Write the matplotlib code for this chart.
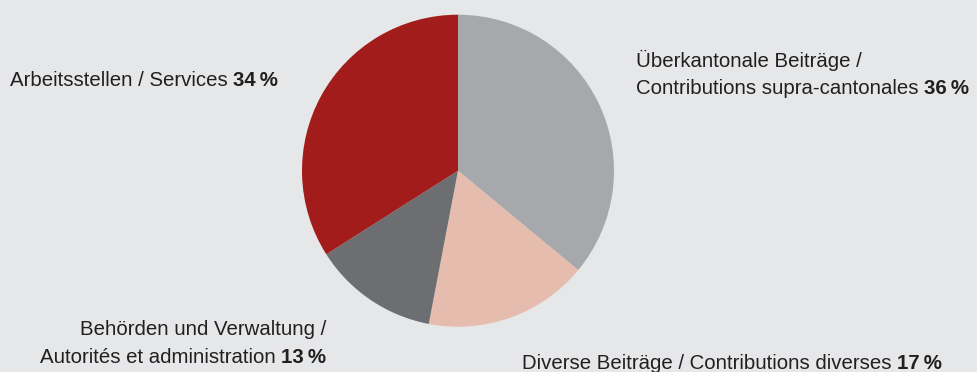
import matplotlib
matplotlib.use("Agg")
import matplotlib.pyplot as plt

labels = ["Überkantonale Beiträge /\nContributions supra-cantonales",
          "Diverse Beiträge / Contributions diverses",
          "Behörden und Verwaltung /\nAutorités et administration",
          "Arbeitsstellen / Services"]
values = [36, 17, 13, 34]
colors = ["#a7a8ab", "#e5bcad", "#6d6e71", "#a21c1b"]

W, H = 977, 372
BG = "#e6e7e8"
FONT = "Liberation Sans"
FS = 14.7
TXT = "#231f20"

fig = plt.figure(figsize=(W / 100, H / 100), dpi=100, facecolor=BG)
ax = fig.add_axes([0, 0, 1, 1])
ax.set_facecolor(BG)
ax.pie(values, colors=colors, startangle=90, counterclock=False,
       center=(458, H - 170.7), radius=156,
       wedgeprops=dict(linewidth=0))
ax.set_xlim(0, W)
ax.set_ylim(0, H)
ax.set_aspect("auto")
ax.axis("off")


def y(v):
    return H - v


def line_left(x, yb, normal, pct):
    t = ax.text(x, y(yb), normal + " ", ha="left", va="baseline",
                fontsize=FS, family=FONT, color=TXT)
    ax.annotate(f"{pct}\u2009%", xy=(1, 0), xycoords=t, ha="left", va="bottom",
                fontsize=FS, family=FONT, color=TXT, fontweight="bold")


def line_right(x, yb, normal, pct):
    b = ax.text(x, y(yb), f"{pct}\u2009%", ha="right", va="baseline",
                fontsize=FS, family=FONT, color=TXT, fontweight="bold")
    ax.annotate(normal + " ", xy=(0, 0), xycoords=b, ha="right", va="bottom",
                fontsize=FS, family=FONT, color=TXT)


def plain(x, yb, s, ha="left"):
    ax.text(x, y(yb), s, ha=ha, va="baseline", fontsize=FS, family=FONT, color=TXT)


# Überkantonale (36)
l0 = labels[0].split("\n")
plain(636, 66.7, l0[0])
line_left(636, 94.3, l0[1], values[0])
# Diverse (17)
line_left(522, 369.3, labels[1], values[1])
# Behörden (13)
l2 = labels[2].split("\n")
plain(326, 335, l2[0], ha="right")
line_right(326, 363.3, l2[1], values[2])
# Arbeitsstellen (34)
line_left(10, 86.5, labels[3], values[3])

fig.savefig("out.png", dpi=100, facecolor=BG)
